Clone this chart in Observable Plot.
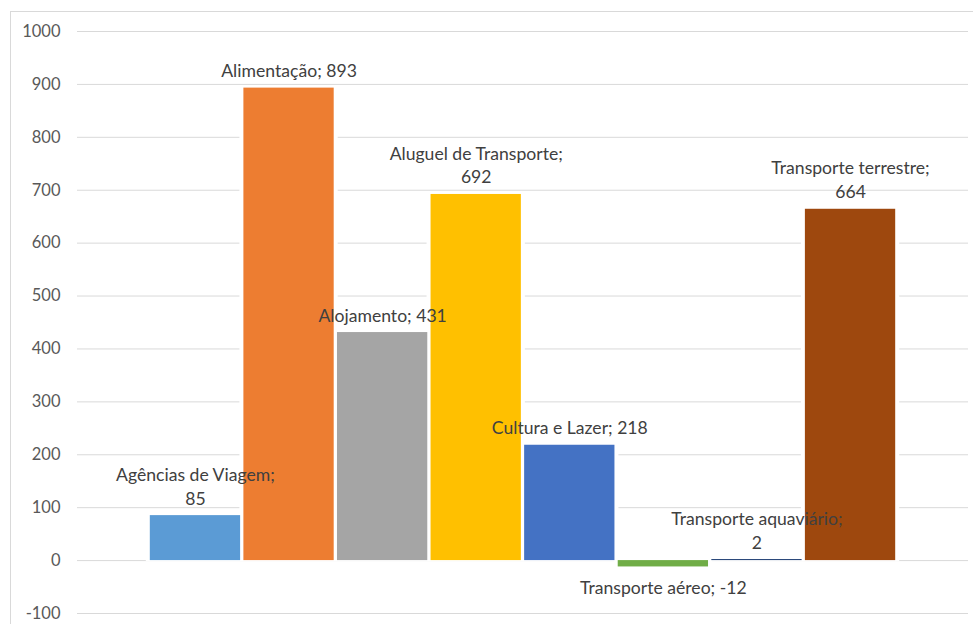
<!DOCTYPE html>
<html>
<head>
<meta charset="utf-8">
<script src="https://cdn.jsdelivr.net/npm/d3@7"></script>
<script src="https://cdn.jsdelivr.net/npm/@observablehq/plot@0.6"></script>
<style>
  body { margin: 0; background: #fff; }
  #wrap { position: relative; width: 973px; height: 626px; overflow: hidden; }
  #frame { position: absolute; left: 10px; top: 11px; right: -2px; bottom: 2px;
           border-left: 1px solid #d9d9d9; border-top: 1px solid #d9d9d9; pointer-events: none; }
</style>
</head>
<body>
<div id="wrap"><div id="frame"></div></div>
<script>
// Segments and their values
const categories = [
  "Agências de Viagem",
  "Alimentação",
  "Alojamento",
  "Aluguel de Transporte",
  "Cultura e Lazer",
  "Transporte aéreo",
  "Transporte aquaviário",
  "Transporte terrestre"
];
const values = [85, 893, 431, 692, 218, -12, 2, 664];
const colors = ["#5B9BD5", "#ED7D31", "#A5A5A5", "#FFC000", "#4472C4", "#70AD47", "#264478", "#9E480E"];
const yTicks = [-100, 0, 100, 200, 300, 400, 500, 600, 700, 800, 900, 1000];

const data = categories.map((name, i) => {
  const head = name + ";";
  const full = head + " " + values[i];
  return {
    name,
    value: values[i],
    // longer labels break after the semicolon
    label: full.length > 21 ? head + "\n" + values[i] : full
  };
});

const font = "Lato, 'Open Sans', sans-serif";

const chart = Plot.plot({
  width: 973,
  height: 626,
  marginLeft: 77,
  marginRight: 5,
  marginTop: 31,
  marginBottom: 13,
  style: { fontFamily: font, fontSize: "16.5px", background: "transparent", overflow: "visible" },
  x: { type: "band", domain: categories, paddingInner: 0.035, paddingOuter: 0.778, round: false, axis: null },
  y: { domain: [-100, 1000] },
  color: { domain: categories, range: colors },
  marks: [
    Plot.ruleY(yTicks, { stroke: "#d9d9d9", strokeWidth: 1 }),
    // white margin that cuts the gridlines beside each bar
    Plot.barY(data, { x: "name", y: "value", fill: "white", insetLeft: -4, insetRight: -4, insetTop: -1, insetBottom: -1 }),
    Plot.barY(data, { x: "name", y: "value", fill: "name" }),
    Plot.axisY({
      ticks: yTicks, tickSize: 0, tickPadding: 17, tickFormat: d => String(d),
      fill: "#595959", fontSize: "16.5px", label: null
    }),
    Plot.text(data.filter(d => d.value >= 0), {
      x: "name", y: "value", text: "label", lineAnchor: "bottom", dy: -11,
      lineHeight: 1.36, fill: "#404040", fontSize: "17.6px"
    }),
    Plot.text(data.filter(d => d.value < 0), {
      x: "name", y: "value", text: "label", lineAnchor: "top", dy: 10,
      lineHeight: 1.36, fill: "#404040", fontSize: "17.6px"
    })
  ]
});

document.getElementById("wrap").prepend(chart);
</script>
</body>
</html>
